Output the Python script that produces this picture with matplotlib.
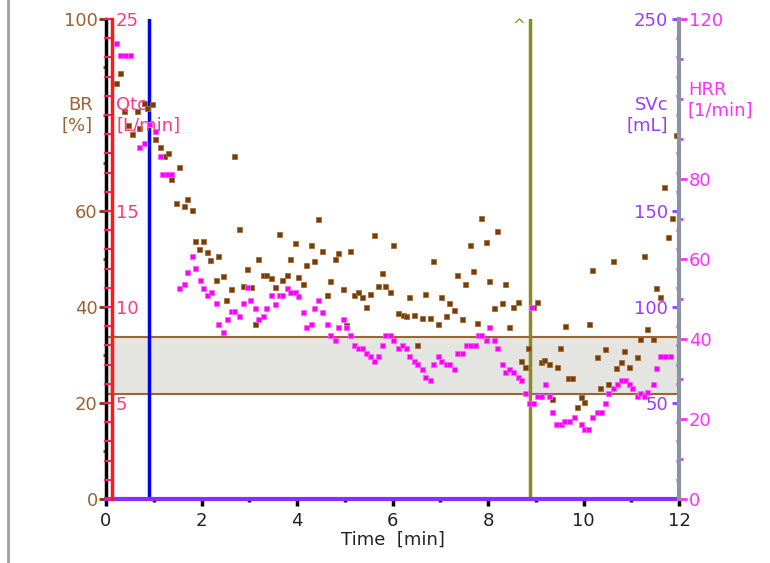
import matplotlib
matplotlib.use('Agg')
import matplotlib.pyplot as plt
from matplotlib.lines import Line2D

## breathing rate BR [%] per breath
br_t = [0.20, 0.29, 0.38, 0.46, 0.54, 0.64, 0.70, 0.80, 0.85, 0.96,
        1.03, 1.13, 1.22, 1.29, 1.36, 1.53, 1.46, 1.63, 1.70, 1.80,
        1.86, 1.95, 2.03, 2.12, 2.18, 2.30, 2.35, 2.46, 2.52, 2.62,
        2.69, 2.79, 2.86, 2.95, 3.03, 3.12, 3.18, 3.29, 3.36, 3.46,
        3.53, 3.62, 3.69, 3.79, 3.85, 3.95, 4.02, 4.12, 4.19, 4.29,
        4.35, 4.45, 4.52, 4.62, 4.69, 4.79, 4.85, 4.96, 5.02, 5.12,
        5.19, 5.28, 5.36, 5.45, 5.52, 5.62, 5.69, 5.79, 5.85, 5.95,
        6.02, 6.12, 6.21, 6.29, 6.35, 6.45, 6.52, 6.62, 6.69, 6.79,
        6.85, 6.95, 7.02, 7.11, 7.18, 7.29, 7.35, 7.45, 7.52, 7.62,
        7.68, 7.78, 7.85, 7.95, 8.02, 8.12, 8.18, 8.29, 8.35, 8.45,
        8.52, 8.62, 8.69, 8.78, 8.84, 8.95, 9.02, 9.12, 9.18, 9.28,
        9.33, 9.45, 9.51, 9.61, 9.68, 9.76, 9.86, 9.95, 10.01, 10.12,
        10.18, 10.28, 10.35, 10.44, 10.51, 10.61, 10.68, 10.78, 10.85, 10.95,
        11.11, 11.18, 11.27, 11.34, 11.45, 11.51, 11.61, 11.69, 11.78, 11.85, 11.93]
br_val = [86.7, 88.8, 80.8, 77.9, 76.1, 80.8, 77.2, 82.4, 81.4, 82.2,
          74.9, 73.4, 71.5, 72.1, 66.6, 69.2, 61.6, 61.0, 62.6, 60.3,
          53.7, 52.0, 53.7, 51.4, 49.7, 45.7, 50.7, 46.4, 41.4, 43.8,
          71.5, 56.3, 44.4, 48.0, 44.1, 36.5, 50.0, 46.7, 46.7, 46.0,
          44.1, 55.3, 45.7, 46.7, 50.0, 53.3, 46.3, 44.7, 48.7, 53.0,
          49.6, 58.3, 51.7, 42.4, 45.4, 50.0, 51.3, 43.8, 36.3, 51.7,
          42.4, 43.1, 42.1, 40.1, 42.7, 54.9, 44.4, 47.0, 44.4, 43.1,
          53.0, 38.8, 38.4, 38.1, 42.1, 38.4, 32.1, 37.8, 42.7, 37.8,
          49.6, 36.5, 42.1, 38.1, 40.8, 39.4, 46.7, 37.4, 44.7, 53.0,
          47.4, 36.7, 58.6, 53.6, 45.4, 39.7, 55.9, 40.8, 44.7, 35.8,
          40.1, 41.0, 28.8, 27.5, 31.5, 40.1, 41.1, 28.5, 28.9, 28.2,
          20.8, 27.5, 31.5, 36.1, 25.2, 25.2, 19.2, 21.3, 20.2, 36.5,
          47.7, 29.5, 23.2, 31.2, 23.9, 49.6, 27.2, 28.5, 30.8, 27.5,
          29.5, 33.4, 50.7, 35.4, 33.4, 44.0, 42.1, 64.9, 54.6, 58.6, 75.9]

## heart rate HRR [1/min]
hrr_t = [0.21, 0.30, 0.40, 0.50, 0.70, 0.80, 0.91, 1.03, 1.13, 1.18,
         1.28, 1.37, 1.53, 1.63, 1.70, 1.80, 1.86, 1.96, 2.03, 2.12,
         2.19, 2.30, 2.35, 2.46, 2.53, 2.62, 2.69, 2.79, 2.86, 2.95,
         3.02, 3.12, 3.18, 3.29, 3.36, 3.46, 3.53, 3.62, 3.69, 3.79,
         3.85, 3.95, 4.02, 4.12, 4.19, 4.29, 4.35, 4.45, 4.52, 4.62,
         4.69, 4.79, 4.85, 4.96, 5.02, 5.12, 5.19, 5.28, 5.36, 5.45,
         5.52, 5.62, 5.69, 5.79, 5.85, 5.95, 6.02, 6.12, 6.19, 6.29,
         6.35, 6.45, 6.52, 6.62, 6.69, 6.79, 6.85, 6.95, 7.02, 7.11,
         7.18, 7.29, 7.36, 7.45, 7.53, 7.62, 7.72, 7.79, 7.86, 7.95,
         8.02, 8.12, 8.18, 8.29, 8.35, 8.45, 8.52, 8.62, 8.69, 8.78,
         8.85, 8.90, 8.95, 9.02, 9.11, 9.19, 9.28, 9.35, 9.42, 9.52,
         9.59, 9.69, 9.81, 9.94, 10.01, 10.09, 10.18, 10.28, 10.36, 10.45,
         10.52, 10.61, 10.70, 10.78, 10.86, 10.96, 11.02, 11.11, 11.18, 11.27,
         11.34, 11.45, 11.51, 11.60, 11.71, 11.81]
hrr_val = [114.1, 110.9, 110.9, 110.9, 88.0, 89.0, 93.8, 91.9, 85.8, 81.2,
           81.2, 81.2, 52.8, 53.7, 56.8, 60.8, 57.7, 54.8, 52.8, 50.9,
           51.7, 48.9, 43.8, 41.8, 44.9, 46.9, 46.9, 45.8, 48.9, 52.9,
           49.7, 47.8, 44.9, 45.8, 47.7, 50.9, 48.8, 50.9, 50.9, 52.8,
           51.7, 51.7, 50.8, 46.8, 42.9, 43.8, 47.7, 49.7, 46.8, 43.8,
           40.9, 39.8, 42.9, 44.9, 42.9, 40.9, 38.6, 37.8, 37.8, 36.6,
           35.8, 34.6, 35.8, 38.6, 40.9, 40.9, 39.8, 37.8, 38.6, 37.8,
           35.8, 34.6, 33.8, 32.6, 30.6, 29.8, 33.8, 35.8, 34.6, 33.8,
           33.8, 32.6, 36.6, 36.6, 38.6, 38.6, 38.6, 40.9, 40.9, 39.8,
           42.9, 39.8, 37.8, 33.8, 31.8, 32.6, 31.8, 30.6, 29.8, 26.6,
           23.9, 48.1, 23.9, 25.8, 25.8, 28.7, 25.8, 21.8, 18.7, 18.7,
           19.5, 19.5, 20.6, 18.7, 17.5, 17.5, 20.6, 21.8, 21.8, 23.9,
           26.6, 27.8, 28.7, 29.8, 29.8, 28.7, 27.8, 25.8, 26.6, 25.8,
           26.7, 28.7, 32.7, 35.8, 35.8, 35.8]

## markers: Qtc axis position, event lines, BR target band
qtc_pos = 0.12
event_t = [0.9, 8.88]
band_lo, band_hi = 21.9, 33.8

time_ticks = [0, 2, 4, 6, 8, 10, 12]
time_minor = [1, 3, 5, 7, 9, 11]
br_ticks = [0, 20, 40, 60, 100]
br_minor = [10, 30, 50, 70, 80, 90]
qtc_ticks = [5, 10, 15, 25]
qtc_minor = [i for i in range(26) if i not in qtc_ticks]
svc_ticks = [50, 100, 150, 250]
svc_minor = [i for i in range(0, 250, 10) if i not in svc_ticks]
hrr_ticks = [0, 20, 40, 60, 80, 120]
hrr_minor = [10, 30, 50, 70, 90, 100, 110]

c_br, c_brtxt = '#7a3c05', '#9c6232'
c_qtc = '#ff3a7c'
c_svc = '#9a3cff'
c_hrr = '#ff30ff'
c_olive = '#8a8a22'

plt.rcParams['font.family'] = 'DejaVu Sans'
plt.rcParams['font.size'] = 13

fig = plt.figure(figsize=(7.7, 5.63), dpi=100)
fig.add_artist(Line2D([8/770., 8/770.], [0, 1], color='#a0a0a0', lw=2, transform=fig.transFigure))

## main axis: BR
ax = fig.add_axes([106/770., 64/563., 573/770., 480/563.])
ax.set_xlim(0, 12); ax.set_ylim(0, 100)
ax.axhspan(band_lo, band_hi, fc='#e4e4e0', ec='none', zorder=0)
for yb in (band_lo, band_hi):
    ax.axhline(yb, color='#9c6630', lw=1.5, zorder=1)
ax.axvline(event_t[0], color='#0000f0', lw=2.5, zorder=2)
ax.axvline(event_t[1], color=c_olive, lw=2.5, zorder=2)
ax.text(8.65, 98.6, '^', color=c_olive, fontsize=11, ha='center', va='center')
ax.plot(br_t, br_val, 's', color=c_br, ms=3.6, mew=0.6, mec='#a26c3c', zorder=3)

for s in ('top', 'right'):
    ax.spines[s].set_visible(False)
ax.spines['left'].set_color('black'); ax.spines['left'].set_linewidth(2.5)
ax.spines['bottom'].set_color('#8e2cff'); ax.spines['bottom'].set_linewidth(3)
ax.set_xticks(time_ticks); ax.set_xticks(time_minor, minor=True)
ax.set_yticks(br_ticks); ax.set_yticks(br_minor, minor=True)
ax.tick_params(axis='x', which='major', length=5, width=2.5, color='black', labelcolor='#222222', pad=4)
ax.tick_params(axis='x', which='minor', length=2.5, width=2.5, color='black')
ax.tick_params(axis='y', which='major', length=5, width=2, color=c_br, labelcolor=c_brtxt, pad=1)
ax.tick_params(axis='y', which='minor', length=2, width=2, color=c_br)
ax.set_xlabel('Time  [min]', labelpad=1, color='#222222')
ax.text(-0.023, 0.80, 'BR\n[%]', transform=ax.transAxes, ha='right', va='center',
        multialignment='right', color=c_brtxt)

## Qtc axis drawn on the red line near t=0
axq = ax.twinx()
axq.set_ylim(0, 25)
for s in ('top', 'left', 'bottom'):
    axq.spines[s].set_visible(False)
axq.spines['right'].set_position(('axes', qtc_pos / 12.))
axq.spines['right'].set_color('#ff1a1a'); axq.spines['right'].set_linewidth(2.5)
axq.set_yticks(qtc_ticks); axq.set_yticks(qtc_minor, minor=True)
axq.tick_params(axis='y', which='both', direction='in', length=6, width=1.5, color='#ff1f66',
                labelcolor=c_qtc, pad=3)
axq.text(0.0175, 0.80, 'Qtc\n[L/min]', transform=ax.transAxes, ha='left', va='center', color=c_qtc)

## SVc axis: ticks on the left of the right border
axs = ax.twinx()
axs.set_ylim(0, 250)
for s in ('top', 'right', 'bottom'):
    axs.spines[s].set_visible(False)
axs.spines['left'].set_position(('axes', 1.0))
axs.spines['left'].set_visible(False)
axs.yaxis.set_ticks_position('left')
axs.set_yticks(svc_ticks); axs.set_yticks(svc_minor, minor=True)
axs.tick_params(axis='y', which='major', left=True, right=False, labelleft=True, labelright=False,
                length=5, width=2, color=c_svc, labelcolor=c_svc, pad=3)
axs.tick_params(axis='y', which='minor', left=True, right=False, length=2, width=2, color=c_svc)
axs.text(0.981, 0.80, 'SVc\n[mL]', transform=ax.transAxes, ha='right', va='center',
         multialignment='right', color=c_svc)

## HRR axis on the right border
axh = ax.twinx()
axh.set_ylim(0, 120)
for s in ('top', 'left', 'bottom'):
    axh.spines[s].set_visible(False)
axh.spines['right'].set_color('#8a94a0'); axh.spines['right'].set_linewidth(3)
axh.set_yticks(hrr_ticks); axh.set_yticks(hrr_minor, minor=True)
axh.tick_params(axis='y', which='major', length=6, width=2, color=c_hrr, labelcolor=c_hrr, pad=1)
axh.tick_params(axis='y', which='minor', length=3, width=2, color=c_hrr)
axh.plot(hrr_t, hrr_val, 's', color='#ff00ff', ms=3.6, mew=0.6, mec='#ff60ff', zorder=3)
axh.text(1.0157, 0.831, 'HRR\n[1/min]', transform=ax.transAxes, ha='left', va='center', color=c_hrr)

plt.savefig('out.png', dpi=100)
